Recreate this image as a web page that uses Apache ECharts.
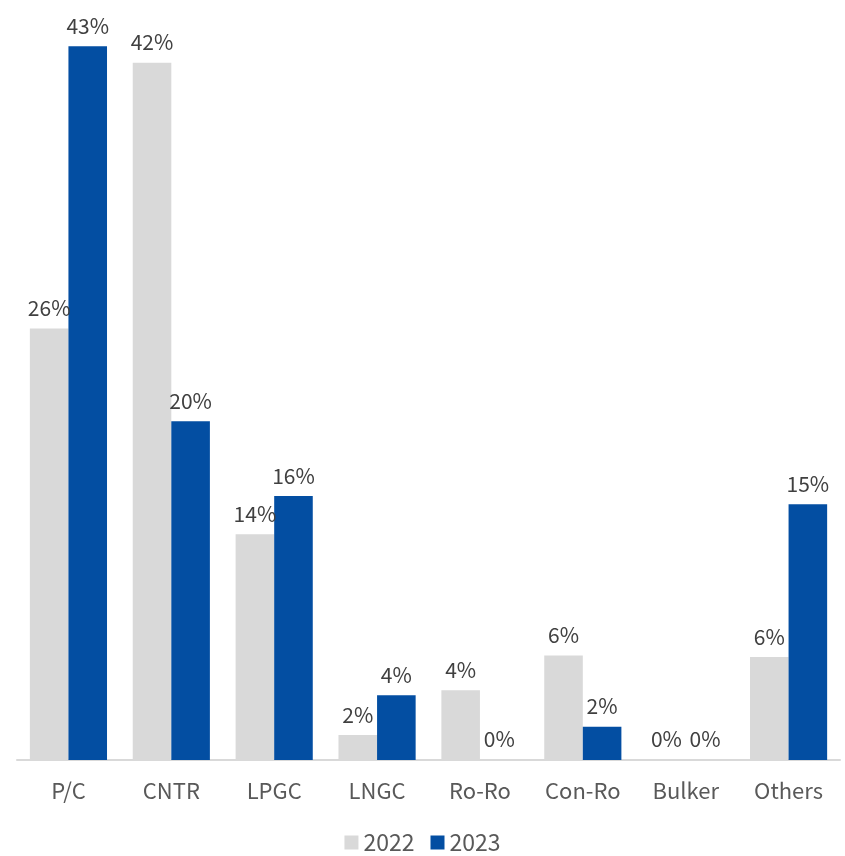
<!DOCTYPE html>
<html lang="en">
<head>
  <meta charset="UTF-8">
  <title>Ship types</title>
  <script src="https://cdn.jsdelivr.net/npm/echarts@6/dist/echarts.min.js"></script>
  <style>
    html, body { margin: 0; padding: 0; background: #fff; }
    #wrap { width: 845px; height: 856px; }
  </style>
</head>
<body>
<div id="wrap"></div>
<script>
  const categories = ["P/C", "CNTR", "LPGC", "LNGC", "Ro-Ro", "Con-Ro", "Bulker", "Others"]
  const years = ["2022", "2023"]
  const share2022 = [26, 42, 13.6, 1.5, 4.2, 6.3, 0, 6.2]
  const share2023 = [43, 20.4, 15.9, 3.9, 0, 2.0, 0, 15.4]

  const chart = echarts.init(document.querySelector("#wrap"))
  const font = "'Noto Sans CJK KR', 'Noto Sans', sans-serif"

  const label = {
    show: true,
    position: "top",
    distance: 10,
    fontFamily: font,
    fontSize: 21,
    color: "#404040",
    formatter: p => Math.round(p.value) + "%"
  }

  chart.setOption({
    animation: false,
    textStyle: { fontFamily: font },
    grid: { left: 17, right: 5, top: 13, bottom: 96 },
    legend: {
      bottom: -3,
      left: "center",
      itemWidth: 14,
      itemHeight: 14,
      itemGap: 16,
      icon: "rect",
      textStyle: { fontSize: 23, color: "#595959", fontFamily: font },
      data: years
    },
    xAxis: {
      type: "category",
      data: categories,
      axisLine: { lineStyle: { color: "#d9d9d9", width: 2 } },
      axisTick: { show: false },
      axisLabel: { fontSize: 22, color: "#595959", margin: 20, fontFamily: font }
    },
    yAxis: {
      type: "value",
      min: 0,
      max: 45,
      show: false,
      splitLine: { show: false }
    },
    series: [
      {
        name: years[0],
        type: "bar",
        data: share2022,
        barGap: "0%",
        barCategoryGap: "25%",
        itemStyle: { color: "#d9d9d9" },
        label: label
      },
      {
        name: years[1],
        type: "bar",
        data: share2023,
        itemStyle: { color: "#034ea2" },
        label: label
      }
    ]
  })
</script>
</body>
</html>
